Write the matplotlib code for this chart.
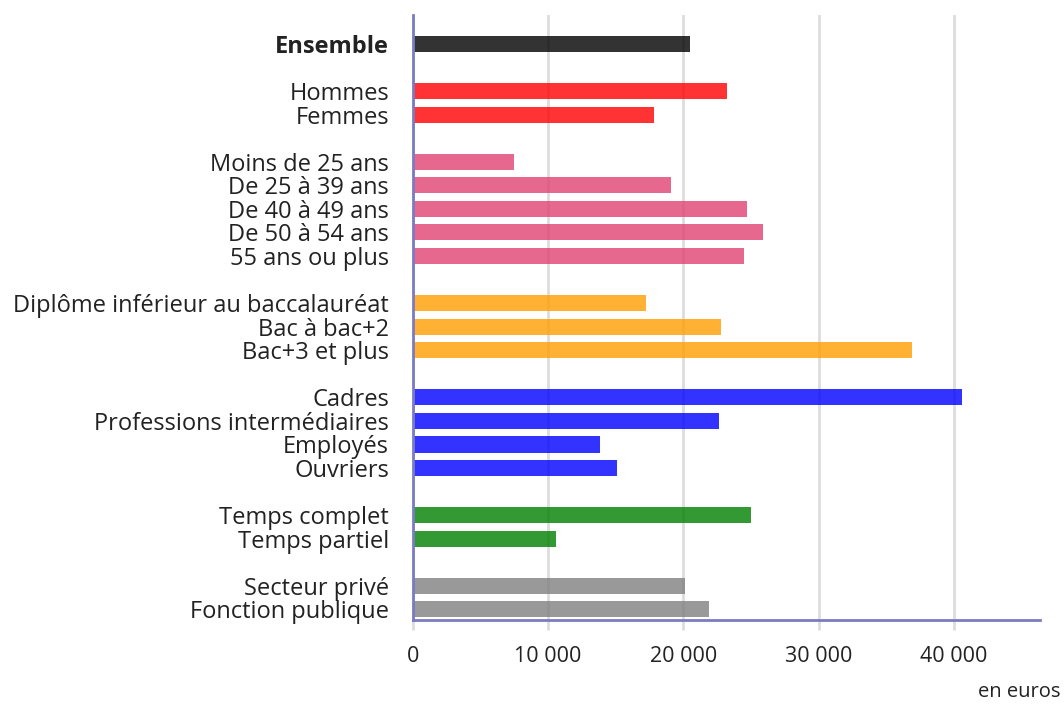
import matplotlib.pyplot as plt

plt.rcParams['font.family'] = ['Open Sans', 'DejaVu Sans']

# groups of bars (label lists and values in euros)
ensemble_labels = ["Ensemble"]
ensemble_values = [20500]
sexe_labels = ["Hommes", "Femmes"]
sexe_values = [23200, 17800]
age_labels = ["Moins de 25 ans", "De 25 à 39 ans", "De 40 à 49 ans",
              "De 50 à 54 ans", "55 ans ou plus"]
age_values = [7500, 19100, 24700, 25900, 24500]
diplome_labels = ["Diplôme inférieur au baccalauréat", "Bac à bac+2", "Bac+3 et plus"]
diplome_values = [17200, 22800, 36900]
csp_labels = ["Cadres", "Professions intermédiaires", "Employés", "Ouvriers"]
csp_values = [40600, 22600, 13800, 15100]
temps_labels = ["Temps complet", "Temps partiel"]
temps_values = [25000, 10600]
secteur_labels = ["Secteur privé", "Fonction publique"]
secteur_values = [20100, 21900]

groups = [
    (ensemble_labels, ensemble_values, "#000000"),
    (sexe_labels, sexe_values, "#ff0000"),
    (age_labels, age_values, "#e24273"),
    (diplome_labels, diplome_values, "#ff9e00"),
    (csp_labels, csp_values, "#0000ff"),
    (temps_labels, temps_values, "#008000"),
    (secteur_labels, secteur_values, "#808080"),
]

fig = plt.figure(figsize=(10.64, 7.04), dpi=100)
ax = fig.add_axes([0.388, 0.1193, 0.5894, 0.8594])

pos = 0
ticks, ticklabels = [], []
for labels, values, color in groups:
    ys = list(range(pos, pos + len(labels)))
    ax.barh(ys, values, height=0.68, color=color, alpha=0.8, zorder=3)
    ticks += ys
    ticklabels += labels
    pos += len(labels) + 1

ax.set_ylim(24.45, -1.23)
ax.set_xlim(0, 46340)
ax.set_yticks(ticks)
ax.set_yticklabels(ticklabels, fontsize=17, color="#222222")
ax.get_yticklabels()[0].set_fontweight("bold")
ax.tick_params(axis="y", length=0, pad=17)

ax.set_xticks([0, 10000, 20000, 30000, 40000])
ax.set_xticklabels(["0", "10 000", "20 000", "30 000", "40 000"], fontsize=15.5, color="#222222")
ax.tick_params(axis="x", length=7, width=2, color="#dddddd", pad=12)

ax.grid(axis="x", color="#dddddd", linewidth=2, zorder=1)
for s in ["top", "right"]:
    ax.spines[s].set_visible(False)
for s in ["left", "bottom"]:
    ax.spines[s].set_color("#7b7bc4")
    ax.spines[s].set_linewidth(2)
    ax.spines[s].set_zorder(4)

fig.text(0.997, 0.003, "en euros", ha="right", va="bottom", fontsize=14.5, color="#222222")

fig.savefig("out.png", dpi=100)
